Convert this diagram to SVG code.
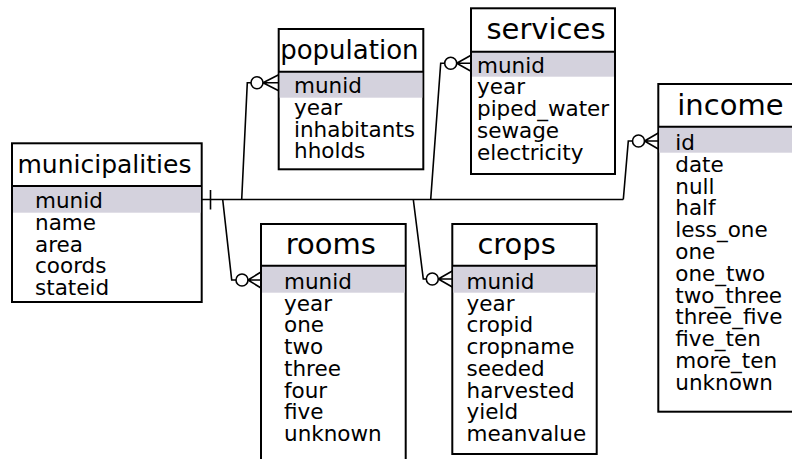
<svg xmlns="http://www.w3.org/2000/svg" width="792" height="459" viewBox="0 0 792 459">
<style>
.box{fill:#ffffff;stroke:#000;stroke-width:2}
.hl{fill:#d4d2dd;stroke:none}
.sep{stroke:#000;stroke-width:2}
.title{font-family:"DejaVu Sans",sans-serif;font-size:29px;fill:#000}
.title2{font-family:"DejaVu Sans",sans-serif;font-size:26px;fill:#000}
.f{font-family:"DejaVu Sans",sans-serif;font-size:21.5px;fill:#000}
.c{fill:none;stroke:#000;stroke-width:1.6}
.o{fill:#fff;stroke:#000;stroke-width:1.6}
</style>
<g id="connectors">
<path class="c" d="M201.7,199.5 H623.3"/>
<path class="c" d="M210.5,190 V209.5"/>
<path class="c" d="M241.7,199.5 L247.3,82.7 H251"/>
<circle class="o" cx="257" cy="82.7" r="6"/>
<path class="c" d="M263,82.7 L278.7,74.7 M263,82.7 H278.7 M263,82.7 L278.7,90.7"/>
<path class="c" d="M430.7,199.5 L440.7,63.3 H444.7"/>
<circle class="o" cx="450.7" cy="63.3" r="6"/>
<path class="c" d="M456.7,63.3 L471,55.3 M456.7,63.3 H471 M456.7,63.3 L471,71.3"/>
<path class="c" d="M623.3,199.5 L628.3,141 H632.5"/>
<circle class="o" cx="638.5" cy="141" r="6"/>
<path class="c" d="M644.5,141 L658.3,133 M644.5,141 H658.3 M644.5,141 L658.3,149"/>
<path class="c" d="M222.7,199.5 L231.7,280 H236"/>
<circle class="o" cx="242" cy="280" r="6"/>
<path class="c" d="M248,280 L261,272 M248,280 H261 M248,280 L261,288"/>
<path class="c" d="M413.3,199.5 L423.3,279 H426.3"/>
<circle class="o" cx="432.3" cy="279" r="6"/>
<path class="c" d="M438.3,279 L452.3,271 M438.3,279 H452.3 M438.3,279 L452.3,287"/>
</g>
<g id="municipalities">
<rect class="box" x="12" y="143.3" width="189.7" height="158.7"/>
<rect class="hl" x="13" y="186" width="187.7" height="26.7"/>
<line class="sep" x1="12" y1="186" x2="201.7" y2="186"/>
<text class="title2" x="17.5" y="173.3" style="font-size:25px">municipalities</text>
<text class="f" x="35" y="208.3">munid</text>
<text class="f" x="35" y="230">name</text>
<text class="f" x="35" y="251.7">area</text>
<text class="f" x="35" y="273.4">coords</text>
<text class="f" x="35" y="295.1">stateid</text>
</g>
<g id="population">
<rect class="box" x="278.7" y="29" width="144.6" height="140.3"/>
<rect class="hl" x="279.7" y="71.7" width="142.6" height="26"/>
<line class="sep" x1="278.7" y1="71.7" x2="423.3" y2="71.7"/>
<text class="title2" x="280.2" y="59.3">population</text>
<text class="f" x="294" y="93.3">munid</text>
<text class="f" x="294" y="115">year</text>
<text class="f" x="294" y="136.7">inhabitants</text>
<text class="f" x="294" y="158.4">hholds</text>
</g>
<g id="services">
<rect class="box" x="471" y="8.3" width="144" height="165.7"/>
<rect class="hl" x="472" y="51.7" width="142" height="25"/>
<line class="sep" x1="471" y1="51.7" x2="615" y2="51.7"/>
<text class="title" x="486.5" y="39.3">services</text>
<text class="f" x="477" y="72.7">munid</text>
<text class="f" x="477" y="94.4">year</text>
<text class="f" x="477" y="116.1">piped_water</text>
<text class="f" x="477" y="137.8">sewage</text>
<text class="f" x="477" y="159.5">electricity</text>
</g>
<g id="income">
<rect class="box" x="658.3" y="84" width="150" height="327.7"/>
<rect class="hl" x="659.3" y="126.7" width="148" height="26"/>
<line class="sep" x1="658.3" y1="126.7" x2="808.3" y2="126.7"/>
<text class="title" x="677.3" y="115">income</text>
<text class="f" x="675.3" y="150">id</text>
<text class="f" x="675.3" y="171.8">date</text>
<text class="f" x="675.3" y="193.6">null</text>
<text class="f" x="675.3" y="215.4">half</text>
<text class="f" x="675.3" y="237.2">less_one</text>
<text class="f" x="675.3" y="259">one</text>
<text class="f" x="675.3" y="280.8">one_two</text>
<text class="f" x="675.3" y="302.6">two_three</text>
<text class="f" x="675.3" y="324.4">three_five</text>
<text class="f" x="675.3" y="346.2">five_ten</text>
<text class="f" x="675.3" y="368">more_ten</text>
<text class="f" x="675.3" y="389.8">unknown</text>
</g>
<g id="rooms">
<rect class="box" x="261" y="224" width="144.7" height="260"/>
<rect class="hl" x="262" y="265.7" width="142.7" height="27"/>
<line class="sep" x1="261" y1="265.7" x2="405.7" y2="265.7"/>
<text class="title" x="285.7" y="254">rooms</text>
<text class="f" x="284" y="289">munid</text>
<text class="f" x="284" y="310.7">year</text>
<text class="f" x="284" y="332.4">one</text>
<text class="f" x="284" y="354.1">two</text>
<text class="f" x="284" y="375.8">three</text>
<text class="f" x="284" y="397.5">four</text>
<text class="f" x="284" y="419.2">five</text>
<text class="f" x="284" y="440.9">unknown</text>
</g>
<g id="crops">
<rect class="box" x="452.3" y="224" width="144.4" height="230"/>
<rect class="hl" x="453.3" y="265.7" width="142.4" height="27"/>
<line class="sep" x1="452.3" y1="265.7" x2="596.7" y2="265.7"/>
<text class="title" x="477.4" y="254">crops</text>
<text class="f" x="466.5" y="289">munid</text>
<text class="f" x="466.5" y="310.7">year</text>
<text class="f" x="466.5" y="332.4">cropid</text>
<text class="f" x="466.5" y="354.1">cropname</text>
<text class="f" x="466.5" y="375.8">seeded</text>
<text class="f" x="466.5" y="397.5">harvested</text>
<text class="f" x="466.5" y="419.2">yield</text>
<text class="f" x="466.5" y="440.9">meanvalue</text>
</g>
</svg>
